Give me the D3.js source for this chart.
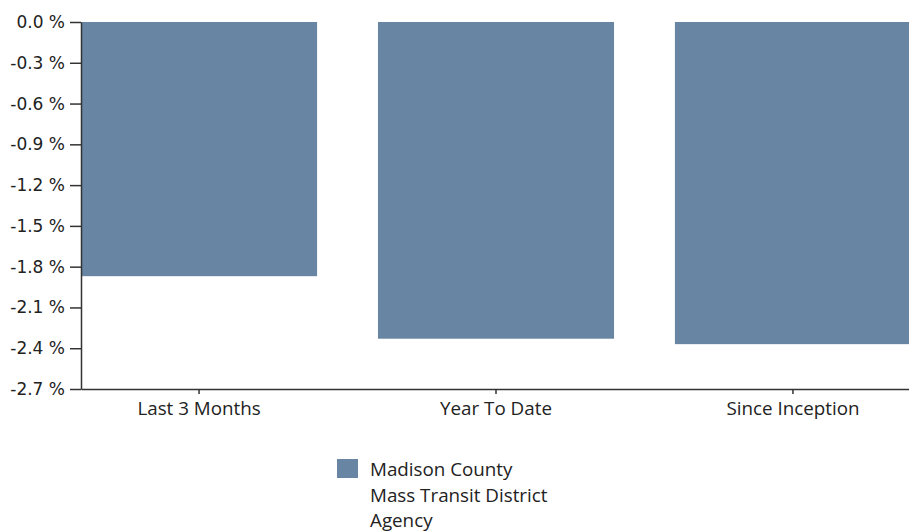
<!DOCTYPE html>
<html><head><meta charset="utf-8">
<script src="https://cdn.jsdelivr.net/npm/d3@7"></script>
<style>
html,body{margin:0;padding:0;background:#fff;overflow:hidden}
svg{display:block}
</style></head>
<body>
<svg id="chart" width="909" height="532"></svg>
<script>
const categories = ["Last 3 Months", "Year To Date", "Since Inception"];
const values = [-1.87, -2.33, -2.37];
const yTicks = [0, -0.3, -0.6, -0.9, -1.2, -1.5, -1.8, -2.1, -2.4, -2.7];
const seriesName = ["Madison County", "Mass Transit District", "Agency"];
const barColor = "#6886a3";

const svg = d3.select("#chart");
const mLeft = 81, mTop = 22, plotH = 367, mRight = 911;

const y = d3.scaleLinear().domain([0, -2.7]).range([mTop, mTop + plotH]);
const x = d3.scaleBand().domain(categories).range([mLeft, mRight]).paddingInner(0.205).paddingOuter(0);

svg.selectAll("rect.bar").data(categories).enter().append("rect")
  .attr("class", "bar")
  .attr("x", d => x(d))
  .attr("width", x.bandwidth())
  .attr("y", y(0))
  .attr("height", (d, i) => y(values[i]) - y(0))
  .attr("fill", barColor);

const yAxis = svg.append("g").attr("transform", `translate(${mLeft},0)`)
  .call(d3.axisLeft(y).tickValues(yTicks).tickSize(11).tickPadding(5).tickSizeOuter(0)
    .tickFormat(d => (Math.abs(d) < 1e-9 ? "0.0" : d.toFixed(1)) + " %"));
yAxis.selectAll("text").attr("font-family", "DejaVu Sans").attr("font-size", "17px").attr("fill", "#222");
yAxis.selectAll("line, path").attr("stroke", "#333").attr("stroke-width", 1.5);

const xAxis = svg.append("g").attr("transform", `translate(0,${mTop + plotH})`)
  .call(d3.axisBottom(x).tickSize(5).tickPadding(8).tickSizeOuter(0));
xAxis.selectAll("text").attr("font-family", "Open Sans").attr("font-size", "18.8px").attr("fill", "#222");
xAxis.selectAll("line, path").attr("stroke", "#333").attr("stroke-width", 1.5);

const lg = svg.append("g");
lg.append("rect").attr("x", 337).attr("y", 459).attr("width", 21).attr("height", 19).attr("fill", barColor);
lg.selectAll("text").data(seriesName).enter().append("text")
  .attr("x", 370).attr("y", (d, i) => 476 + i * 25.5)
  .attr("font-family", "Open Sans").attr("font-size", "18.8px").attr("fill", "#222")
  .text(d => d);
</script>
</body></html>
